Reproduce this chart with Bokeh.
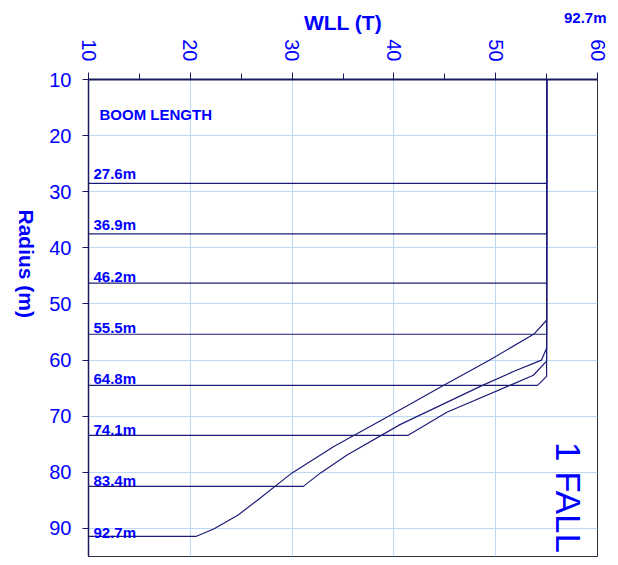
import math
from bokeh.plotting import figure
from bokeh.models import Range1d, FixedTicker, Label, ColumnDataSource
from bokeh.embed import file_html
from bokeh.resources import INLINE
from bokeh.core.properties import value

# ---------------- data ----------------
boom_labels = ["27.6m", "36.9m", "46.2m", "55.5m", "64.8m", "74.1m", "83.4m", "92.7m"]

radius_27_6 = [10, 28.5, 28.5]
wll_27_6 = [55, 55, 10]
radius_36_9 = [10, 37.5, 37.5]
wll_36_9 = [55, 55, 10]
radius_46_2 = [10, 46.3, 46.3]
wll_46_2 = [55, 55, 10]
radius_55_5 = [10, 55.4, 55.4]
wll_55_5 = [55, 55, 10]
radius_64_8 = [10, 62.9, 64.5, 64.5]
wll_64_8 = [55, 55, 54.1, 10]
radius_74_1 = [10, 60.2, 62.7, 64.5, 69.3, 73.4, 73.4]
wll_74_1 = [55, 55, 53.7, 51.4, 45.2, 41.4, 10]
radius_83_4 = [10, 57.9, 60.0, 62.0, 64.5, 71.5, 76.9, 80.1, 82.5, 82.5]
wll_83_4 = [55, 55, 54.5, 51.8, 48.7, 40.6, 35.4, 32.8, 31.1, 10]
radius_92_7 = [10, 52.9, 55.3, 59.9, 64.5, 70.2, 75.4, 80.1, 85.1, 87.6, 90.1, 91.4, 91.4]
wll_92_7 = [55, 55, 53.8, 49.5, 44.9, 39.3, 34.1, 30.0, 26.5, 24.7, 22.3, 20.6, 10]

wll_ticks = [10, 20, 30, 40, 50, 60]
wll_minor_ticks = [15, 25, 35, 45, 55]
radius_ticks = [10, 20, 30, 40, 50, 60, 70, 80, 90]

# ---------------- styling ----------------
FONT = "Liberation Sans"
BLUE = "#0000ff"
NAVY = "#1c1c78"
GRID = "#bcdaf7"

p = figure(width=610, height=557, output_backend="svg", toolbar_location=None,
           x_range=Range1d(10, 60), y_range=Range1d(95, 10),
           x_axis_location="above",
           min_border_left=88, min_border_right=13, min_border_top=79, min_border_bottom=1)

p.background_fill_color = "white"
p.border_fill_color = "white"
p.outline_line_color = "#303040"
p.outline_line_width = 1

# top-right caption as the figure title
p.title.text = "92.7m"
p.title.align = "right"
p.title.vertical_align = "bottom"
p.title.offset = -9
p.title.standoff = -34
p.title.text_font = FONT
p.title.text_font_style = "bold"
p.title.text_font_size = "15px"
p.title.text_color = BLUE

xa = p.xaxis[0]
xa.ticker = FixedTicker(ticks=wll_ticks, minor_ticks=wll_minor_ticks)
xa.axis_label = "WLL (T)"
xa.axis_label_text_font = FONT
xa.axis_label_text_font_style = "bold"
xa.axis_label_text_font_size = "21px"
xa.axis_label_text_color = BLUE
xa.axis_label_standoff = 2
xa.major_label_orientation = -math.pi / 2
xa.major_label_text_font = FONT
xa.major_label_text_font_size = "20px"
xa.major_label_text_color = BLUE
xa.major_label_standoff = 11
xa.major_tick_out = 7
xa.major_tick_in = 0
xa.minor_tick_out = 6
xa.minor_tick_in = 0
xa.axis_line_color = "#1a1a5e"
xa.axis_line_width = 2
xa.major_tick_line_color = "#1a1a5e"
xa.minor_tick_line_color = "#1a1a5e"

ya = p.yaxis[0]
ya.ticker = FixedTicker(ticks=radius_ticks, minor_ticks=[])
ya.axis_label = "Radius (m)"
ya.axis_label_orientation = -math.pi / 2
ya.axis_label_text_font = FONT
ya.axis_label_text_font_style = "bold"
ya.axis_label_text_font_size = "21px"
ya.axis_label_text_color = BLUE
ya.axis_label_standoff = 20
ya.major_label_text_font = FONT
ya.major_label_text_font_size = "20px"
ya.major_label_text_color = BLUE
ya.major_label_standoff = 11
ya.major_tick_out = 6
ya.major_tick_in = 0
ya.minor_tick_line_color = None
ya.axis_line_color = "#1a1a5e"
ya.axis_line_width = 1.5
ya.major_tick_line_color = "#1a1a5e"

p.xgrid.grid_line_color = GRID
p.ygrid.grid_line_color = GRID
p.xgrid.grid_line_width = 1
p.ygrid.grid_line_width = 1

# ---------------- curves ----------------
curves = ColumnDataSource(dict(
    xs=[wll_27_6, wll_36_9, wll_46_2, wll_55_5, wll_64_8, wll_74_1, wll_83_4, wll_92_7],
    ys=[radius_27_6, radius_36_9, radius_46_2, radius_55_5, radius_64_8, radius_74_1,
        radius_83_4, radius_92_7],
))
p.multi_line(xs="xs", ys="ys", source=curves, line_color=NAVY, line_width=1.2)

label_src = ColumnDataSource(dict(
    x=[10] * len(boom_labels),
    y=[26.8 + i * 9.12 for i in range(len(boom_labels))],
    text=boom_labels,
))
p.text(x="x", y="y", text="text", source=label_src, x_offset=5,
       text_font=value(FONT), text_font_style="bold", text_font_size="15px",
       text_color=BLUE, text_baseline="alphabetic", text_align="left")

p.add_layout(Label(x=10, y=16.2, x_offset=11, text="BOOM  LENGTH",
                   text_font=FONT, text_font_style="bold", text_font_size="15px",
                   text_color=BLUE, text_baseline="alphabetic", text_align="left"))

p.add_layout(Label(x=57.15, y=74.6, text="1 FALL", angle=-math.pi / 2,
                   text_font=FONT, text_font_size="35px",
                   text_color=BLUE, text_baseline="middle", text_align="left"))

open("out.html", "w").write(file_html(p, INLINE))
